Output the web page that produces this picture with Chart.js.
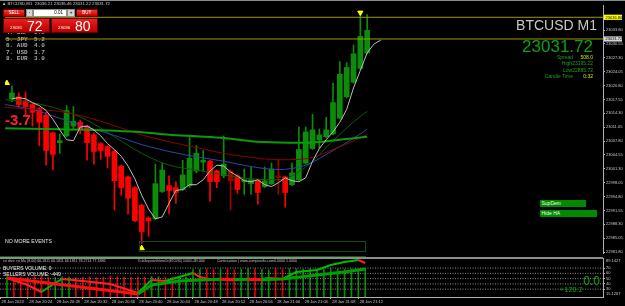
<!DOCTYPE html>
<html><head><meta charset="utf-8">
<script src="https://cdn.jsdelivr.net/npm/chart.js@4.4.1/dist/chart.umd.min.js"></script>
<style>
html,body{margin:0;padding:0;background:#000;width:625px;height:306px;overflow:hidden;font-family:"Liberation Sans",Arial,sans-serif;}
#wrap{position:relative;width:625px;height:306px;}
canvas{position:absolute;left:0;}
.t{position:absolute;white-space:nowrap;line-height:1;z-index:2;}
.r{position:absolute;white-space:nowrap;line-height:1;z-index:2;text-align:right;}
.box{position:absolute;z-index:3;box-sizing:border-box;}
.mono{font-family:"Liberation Mono","DejaVu Sans Mono",monospace;font-weight:bold;font-size:6px;color:#a8a8a8;}
.btn{position:absolute;z-index:3;box-sizing:border-box;display:flex;align-items:center;justify-content:center;font-size:4.5px;color:#fff;background:linear-gradient(#f23a3a,#c00000);border:1px solid #7a0000;line-height:1;}
.big{position:absolute;z-index:3;box-sizing:border-box;background:linear-gradient(#e81e1e,#b80000);border:1px solid #6a0000;color:#fff;}
.gbtn{position:absolute;z-index:3;background:#008a00;color:#e8ffe8;font-size:5px;line-height:7px;height:7px;padding-left:1.5px;box-sizing:border-box;}
</style></head><body>
<div id="wrap">
<canvas id="main" width="625" height="258" style="top:0;width:625px;height:258px"></canvas>
<canvas id="sub" width="625" height="48" style="top:258px;width:625px;height:48px"></canvas>

<div class="box" style="left:0;top:0;width:625px;height:1px;background:#8a8a8a"></div>
<div class="t" style="left:2px;top:2px;font-size:4.3px;color:#c8c8c8">▲ BTCUSD,M1&nbsp; 23036.21 23036.46 23031.22 23031.72</div>

<div class="t mono" style="left:6px;top:30.1px">4. GBP</div><div class="t mono" style="left:34px;top:30.1px">5.5</div>
<div class="t mono" style="left:6px;top:36.6px">5. JPY</div><div class="t mono" style="left:34px;top:36.6px">5.2</div>
<div class="t mono" style="left:6px;top:43.1px">6. AUD</div><div class="t mono" style="left:34px;top:43.1px">4.0</div>
<div class="t mono" style="left:6px;top:49.6px">7. USD</div><div class="t mono" style="left:34px;top:49.6px">3.7</div>
<div class="t mono" style="left:6px;top:56.1px">8. EUR</div><div class="t mono" style="left:34px;top:56.1px">3.0</div>

<div class="btn" style="left:3px;top:9px;width:22px;height:8px">SELL</div>
<div class="btn" style="left:26px;top:9px;width:7px;height:8px;background:#d6d6d6;color:#000;border:1px solid #909090">-</div>
<div class="box" style="left:33px;top:9px;width:34px;height:8px;background:#fff;border:1px solid #909090;font-size:4.5px;color:#000;text-align:right;padding-right:3px;line-height:6px">0.01</div>
<div class="btn" style="left:67px;top:9px;width:8px;height:8px;background:#d6d6d6;color:#000;border:1px solid #909090">+</div>
<div class="btn" style="left:76px;top:9px;width:22px;height:8px">BUY</div>
<div class="big" style="left:3px;top:18px;width:47px;height:15px">
  <span style="position:absolute;left:6px;top:6.5px;font-size:4.4px;line-height:1">23031</span>
  <span style="position:absolute;left:23px;top:0px;font-size:14px;line-height:1">72</span>
</div>
<div class="big" style="left:51px;top:18px;width:47px;height:15px">
  <span style="position:absolute;left:6px;top:6.5px;font-size:4.4px;line-height:1">23036</span>
  <span style="position:absolute;left:23px;top:0px;font-size:14px;line-height:1">80</span>
</div>

<div class="r" style="right:28px;top:17.6px;font-size:14px;color:#c8c8c8">BTCUSD M1</div>
<div class="r" style="right:32px;top:38.2px;font-size:17px;color:#10a010">23031.72</div>
<div class="r" style="right:52px;top:54.5px;font-size:5px;color:#18a018">Spread</div>
<div class="r" style="right:32px;top:54.5px;font-size:5px;color:#e0e000">508.0</div>
<div class="r" style="right:32px;top:60.8px;font-size:5px;color:#18a018">High23195.22</div>
<div class="r" style="right:32px;top:67.8px;font-size:5px;color:#18a018">Low22885.72</div>
<div class="r" style="right:52px;top:74.2px;font-size:5px;color:#18a018">Candle Time</div>
<div class="r" style="right:32px;top:74.2px;font-size:5px;color:#e0e000">0:32</div>

<div class="t" style="left:5px;top:111.6px;font-size:15px;font-weight:bold;color:#ff2222">-3.7</div>
<div class="t" style="left:5px;top:238.5px;font-size:5.2px;color:#e8e8e8">NO MORE EVENTS</div>
<div class="box" style="left:139px;top:241px;width:227px;height:11px;border:1px solid #0e4e0e"></div>
<div class="box" style="left:0;top:255.5px;width:366px;height:1px;background:#145a14"></div>
<div class="box" style="left:0;top:257px;width:603px;height:2px;background:#8c8c8c"></div>

<div class="gbtn" style="left:540px;top:199.5px;width:46px">SupDem</div>
<div class="gbtn" style="left:540px;top:210.3px;width:57px">Hide HA</div>

<div class="t" style="left:3px;top:260.2px;font-size:3.6px;color:#c0c0c0">rsi divs: rsi Ma (8,00) 66.1811 66.1811 66.1811 78.2714 77.1886</div>
<div class="t" style="left:138px;top:260.2px;font-size:3.6px;color:#c0c0c0;transform:scaleX(0.78);transform-origin:left">TicksSeparateVolumeDir(BTCUSD) 0.0000 -449.0000</div>
<div class="t" style="left:217px;top:260.2px;font-size:3.6px;color:#c0c0c0">Continuation | www.compassfx.com</div>
<div class="t" style="left:274px;top:260.2px;font-size:3.6px;color:#c0c0c0">0.0000 1.0000</div>
<div class="t" style="left:3px;top:266px;font-size:5px;color:#f0f0f0">BUYERS VOLUME: 0</div>
<div class="t" style="left:3px;top:271.5px;font-size:5px;color:#f0f0f0">SELLERS VOLUME: -449</div>
<div class="r" style="right:25px;top:275px;font-size:12px;color:#10a010">0.0</div>
<div class="r" style="right:42px;top:286.3px;font-size:7.5px;color:#10a010">+120.2</div>
</div>

<script>
// ---------------- DATA ----------------
const open  = [23017.60,23018.18,23017.26,23016.35,23015.43,23013.83,23009.71,23007.42,23009.02,23011.31,23012.23,23011.31,23009.25,23007.19,23006.51,23005.36,23001.93,22999.41,22996.90,22992.78,22989.81,22989.58,22995.98,22997.36,22996.90,22996.44,22997.36,23000.79,23002.85,23003.08,23000.79,22999.64,23000.79,22999.64,22998.27,22997.81,22998.50,22997.13,22997.81,22999.64,22999.41,22997.58,22998.73,23002.62,23006.05,23008.11,23008.80,23009.48,23013.14,23018.18,23021.61,23024.81,23028.47];
const high  = [23020.69,23019.09,23019.32,23016.80,23015.66,23014.52,23009.94,23009.48,23016.12,23015.89,23012.69,23011.54,23009.71,23007.42,23006.74,23005.59,23002.16,22999.64,22997.13,22993.01,22990.03,23002.39,23002.62,22999.64,22998.27,23003.30,23008.80,23006.74,23005.59,23003.30,23001.02,23009.02,23001.02,22999.87,23001.25,23001.70,22998.73,23001.70,23002.62,23003.53,22999.64,23002.62,23011.08,23011.08,23014.06,23010.63,23013.37,23021.38,23026.41,23026.18,23030.30,23037.62,23037.40];
const low   = [23017.03,23015.66,23013.60,23011.31,23006.74,23002.16,23001.02,23004.91,23008.80,23010.63,23009.48,23003.30,23002.39,23003.53,23001.47,22991.64,22995.07,22990.72,22988.89,22983.86,22985.46,22989.35,22995.75,22990.72,22993.24,22996.21,22996.90,23000.33,23000.79,22993.69,22996.90,22999.19,22991.64,22995.53,22995.30,22995.30,22993.01,22996.90,22997.58,22995.30,22992.32,22997.36,22998.50,23002.39,23005.82,23006.05,23008.57,23009.25,23012.91,23017.95,23021.38,23024.58,23028.24];
const close = [23019.09,23016.35,23015.89,23014.52,23012.23,23005.59,23004.68,23007.88,23014.97,23012.46,23010.63,23007.42,23005.36,23005.59,23004.22,22998.50,22996.90,22994.38,22989.12,22986.60,22989.12,22997.81,23001.02,22996.21,22995.75,22999.87,23003.76,23004.91,23003.30,22998.27,22998.27,23002.39,22998.50,22996.44,22998.73,22998.73,22995.75,22998.50,23001.25,22999.30,22995.75,23000.33,23005.82,23009.94,23010.40,23009.25,23010.40,23016.80,23023.44,23025.04,23028.24,23032.36,23033.73];
const darkIdx = [32, 39];

// fast MA (grey), one value per bar, runs two bars past the last candle
const greyMA = [23017.72,23017.95,23017.72,23016.80,23016.12,23014.97,23012.91,23010.40,23008.11,23007.88,23011.08,23011.31,23010.40,23009.02,23007.19,23005.82,23004.22,23001.93,22998.96,22995.07,22991.86,22989.58,22990.03,22993.24,22996.21,22996.44,22997.58,22997.58,22998.73,23000.79,23002.16,23001.93,23000.56,22999.64,22998.50,22998.27,22998.73,22997.58,22997.13,22998.04,22999.19,22998.50,22998.27,22999.19,23003.08,23006.05,23008.11,23009.94,23012.23,23015.20,23020.24,23024.35,23028.47,23030.53,23031.45];

// slower MAs, sampled every 4 bars
const maIdx     = [-1,3,7,11,15,19,23,27,31,35,39,43,47,51,52];
const maGreen   = [23010.79,23010.67,23010.56,23010.44,23010.21,23009.87,23009.30,23008.91,23008.50,23007.77,23007.47,23007.42,23007.93,23008.64,23008.80];
const maRed     = [23015.66,23015.27,23014.74,23013.37,23011.40,23009.25,23007.65,23006.28,23004.91,23003.99,23003.42,23003.65,23005.82,23008.57,23009.37];
const maBlue    = [23016.35,23015.20,23013.14,23011.08,23009.12,23006.97,23005.36,23004.11,23003.08,23001.82,23001.13,23002.16,23005.59,23009.48,23010.63];
const maDkGreen = [23017.49,23016.80,23015.20,23012.69,23008.80,23004.91,23002.16,23001.02,22999.87,22998.96,22998.73,23001.70,23007.88,23013.60,23014.74];

const levelPrices = [23036.80, 23031.72];
const levelBoxBg  = ['#ffff00', '#d4d4d4'];

const arrowIdx   = [19, 51, -0.75];
const arrowPrice = [22982.70, 23037.90, 23021.40];
const arrowRot   = [0, 180, 0];

const priceTicks = [22981.80,22985.05,22988.30,22991.55,22994.80,22998.05,23001.30,23004.55,23007.80,23011.05,23014.30,23017.55,23020.80,23024.05,23027.30,23030.55,23033.80];
const timeTickIdx = [-1,3,7,11,15,19,23,27,31,35,39,43,47,51];
const timeLabels  = ['28 Jan 2023','28 Jan 20:24','28 Jan 20:28','28 Jan 20:32','28 Jan 20:36','28 Jan 20:40','28 Jan 20:44','28 Jan 20:48','28 Jan 20:52','28 Jan 20:56','28 Jan 21:00','28 Jan 21:04','28 Jan 21:08','28 Jan 21:12'];

// lower panel
const volume = [52,50,51,50,52,53,51,50,52,51,50,51,52,50,51,53,52,51,50,52,51,53,52,50,51,52,51,70,71,72,70,71,72,70,71,73,72,71,70,72,71,73,72,71,72,70,71,73,72,71,72,70,71];
const rsiIdx  = [0,3,5,7,8,11,15,19,21,23,25,27,28,30,32,34,36,38,40,42,45,47,49,51,52];
const rsiVals = [51.2,37.9,24.6,41.7,49.3,45.5,39.8,22.7,47.4,45.5,53.1,60.7,53.1,47.4,49.3,49.3,47.4,51.2,49.3,62.6,66.4,75.8,81.5,85.3,79.6];
const sigIdx  = [0,19,21,25,28,31,33,35,37,40,45,49,52];
const sigVals = [51.2,20.8,37.9,45.5,47.4,48.6,47.9,48.8,48.0,49.3,56.9,62.6,68.3];
const oscLevels = [30,40,50,60,70];
const oscMin = 15.1267, oscMax = 89.1427;

// ---------------- VIEW ----------------
const XMIN = -1.0145, XMAX = 86.52;
const PMIN = 22981.57, PMAX = 23039.68;
const FONT = '"Liberation Sans", Arial, sans-serif';

const idx = open.map((_, i) => i);
const isUp = i => close[i] >= open[i];
const candleColor = idx.map(i => darkIdx.includes(i) ? '#a00000' : (isUp(i) ? '#0b8c0b' : '#ff0000'));
const pts = (xs, ys) => xs.map((x, k) => ({x, y: ys[k]}));

const axisFit = s => { s.width = 22; s.paddingTop = 0; s.paddingBottom = 0; };

const boxPlugin = {
  id: 'boxes',
  afterDraw(chart) {
    const ys = chart.scales.y, ctx = chart.ctx;
    ctx.save();
    ctx.font = '4px ' + FONT;
    ctx.textBaseline = 'middle';
    levelPrices.forEach((v, k) => {
      const py = ys.getPixelForValue(v);
      ctx.fillStyle = levelBoxBg[k];
      ctx.fillRect(ys.left + 1, py - 2.6, 18, 5.2);
      ctx.fillStyle = '#000';
      ctx.fillText(v.toFixed(2), ys.left + 2.5, py + 0.2);
    });
    ctx.restore();
  }
};

new Chart(document.getElementById('main'), {
  type: 'bar',
  data: {
    datasets: [
      {type: 'line', data: pts(arrowIdx, arrowPrice), showLine: false, pointStyle: 'triangle', pointRadius: 3,
       pointRotation: arrowRot, pointBackgroundColor: '#ffff00', pointBorderColor: '#ffff00', order: 0},
      {type: 'line', data: greyMA.map((y, i) => ({x: i, y})), borderColor: '#bcbcbc', borderWidth: 1, pointRadius: 0, order: 1},
      {type: 'line', data: pts(maIdx, maGreen), borderColor: '#0a9c0a', borderWidth: 2, pointRadius: 0, cubicInterpolationMode: 'monotone', order: 2},
      {type: 'line', data: pts(maIdx, maRed), borderColor: '#8e0000', borderWidth: 1, pointRadius: 0, cubicInterpolationMode: 'monotone', order: 3},
      {type: 'line', data: pts(maIdx, maBlue), borderColor: '#2a48a8', borderWidth: 1, pointRadius: 0, cubicInterpolationMode: 'monotone', order: 3},
      {type: 'line', data: pts(maIdx, maDkGreen), borderColor: '#0a5c0a', borderWidth: 1, pointRadius: 0, cubicInterpolationMode: 'monotone', order: 3},
      ...levelPrices.map(p => ({type: 'line', data: [{x: XMIN, y: p}, {x: XMAX, y: p}], borderColor: '#9b9b00', borderWidth: 1, pointRadius: 0, order: 4})),
      {type: 'bar', data: idx.map(i => ({x: i, y: [Math.min(open[i], close[i]), Math.max(open[i], close[i])]})),
       backgroundColor: candleColor, barThickness: 5, grouped: false, minBarLength: 1, order: 5},
      {type: 'bar', data: idx.map(i => ({x: i, y: [low[i], high[i]]})),
       backgroundColor: candleColor, barThickness: 1, grouped: false, minBarLength: 1, order: 6}
    ]
  },
  options: {
    responsive: false, animation: false, events: [],
    layout: {padding: {top: 3, bottom: 1, left: 0, right: 0}},
    plugins: {legend: {display: false}, tooltip: {enabled: false}},
    scales: {
      x: {type: 'linear', min: XMIN, max: XMAX, offset: false, display: false, grid: {offset: false}},
      y: {
        position: 'right', min: PMIN, max: PMAX,
        afterBuildTicks: s => { s.ticks = priceTicks.map(v => ({value: v})); },
        afterFit: axisFit,
        ticks: {font: {size: 4, family: FONT}, color: '#c8c8c8', padding: 1, crossAlign: 'near', callback: v => v.toFixed(2)},
        grid: {drawOnChartArea: false, tickLength: 2, color: '#b0b0b0'},
        border: {display: true, color: '#b0b0b0'}
      }
    }
  },
  plugins: [boxPlugin]
});

const segColor = (up, down) => ({borderColor: c => c.p1.parsed.y < c.p0.parsed.y ? down : up});
const extremesPlugin = {
  id: 'extremes',
  afterDraw(chart) {
    const ys = chart.scales.y, ctx = chart.ctx;
    ctx.save();
    ctx.font = '4px ' + FONT;
    ctx.fillStyle = '#c8c8c8';
    ctx.textBaseline = 'middle';
    ctx.fillText(oscMax.toFixed(4), ys.left + 3, ys.getPixelForValue(oscMax) + 2.6);
    ctx.fillText(oscMin.toFixed(4), ys.left + 3, ys.getPixelForValue(oscMin) - 2.8);
    ctx.restore();
  }
};

new Chart(document.getElementById('sub'), {
  type: 'bar',
  data: {
    datasets: [
      {type: 'line', data: pts(sigIdx, sigVals), borderWidth: 3, pointRadius: 0, segment: segColor('#00a000', '#ff1010'), borderColor: '#00a000', order: 1},
      {type: 'line', data: pts(rsiIdx, rsiVals), borderWidth: 2, pointRadius: 0, segment: segColor('#00bb00', '#ff2020'), borderColor: '#00bb00', order: 2},
      ...oscLevels.map(v => ({type: 'line', data: [{x: XMIN, y: v}, {x: XMAX, y: v}], borderColor: '#8a8a8a', borderWidth: 1, borderDash: [1, 1.5], pointRadius: 0, order: 3})),
      {type: 'bar', yAxisID: 'yv', data: idx.map(i => ({x: i, y: volume[i]})),
       backgroundColor: idx.map(i => isUp(i) ? '#009000' : '#e00000'), barThickness: 1, grouped: false, order: 5}
    ]
  },
  options: {
    responsive: false, animation: false, events: [],
    layout: {padding: 0},
    plugins: {legend: {display: false}, tooltip: {enabled: false}},
    scales: {
      x: {
        type: 'linear', min: XMIN, max: XMAX, offset: false,
        afterBuildTicks: s => { s.ticks = timeTickIdx.map(v => ({value: v})); },
        afterFit: s => { s.height = 9; s.paddingLeft = 0; s.paddingRight = 0; },
        ticks: {autoSkip: false, maxRotation: 0, minRotation: 0, font: {size: 4, family: FONT}, color: '#c8c8c8',
                align: 'start', labelOffset: 1.5, padding: 0.5, callback: (v, i) => timeLabels[i]},
        grid: {drawOnChartArea: false, tickLength: 2, color: '#b0b0b0', offset: false},
        border: {display: true, color: '#b0b0b0'}
      },
      y: {
        position: 'right', min: oscMin, max: oscMax,
        afterBuildTicks: s => { s.ticks = oscLevels.map(v => ({value: v})); },
        afterFit: axisFit,
        ticks: {font: {size: 4, family: FONT}, color: '#c8c8c8', padding: 1, crossAlign: 'near', callback: v => String(v)},
        grid: {drawOnChartArea: false, tickLength: 2, color: '#b0b0b0'},
        border: {display: true, color: '#b0b0b0'}
      },
      yv: {display: false, min: 0, max: 100}
    }
  },
  plugins: [extremesPlugin]
});
</script>
</body></html>
